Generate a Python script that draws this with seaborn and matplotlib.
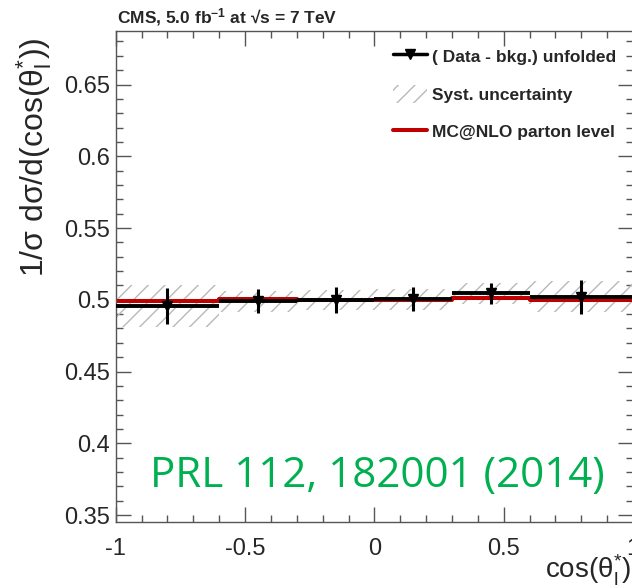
import numpy as np
import matplotlib
matplotlib.use("Agg")
import matplotlib.pyplot as plt
import seaborn as sns
from matplotlib.lines import Line2D
from matplotlib.patches import Patch
from matplotlib.ticker import MultipleLocator

# ---- data ----
bin_edges = [-1.0, -0.6, -0.3, 0.0, 0.3, 0.6, 1.0]
data_values = [0.4956, 0.4991, 0.5000, 0.5005, 0.5045, 0.5021]
stat_errors = [0.0124, 0.0084, 0.0090, 0.0084, 0.0075, 0.0119]
syst_errors = [0.0145, 0.0073, 0.0070, 0.0073, 0.0075, 0.0108]
mc_values = [0.4993, 0.5003, 0.4995, 0.4998, 0.5010, 0.4998]
x_ticks = [-1, -0.5, 0, 0.5, 1]
x_tick_labels = ["-1", "-0.5", "0", "0.5", "1"]
y_ticks = [0.35, 0.4, 0.45, 0.5, 0.55, 0.6, 0.65]
y_tick_labels = ["0.35", "0.4", "0.45", "0.5", "0.55", "0.6", "0.65"]

sns.set_style("ticks")
plt.rcParams["font.family"] = ["Liberation Sans", "DejaVu Sans"]
plt.rcParams["mathtext.default"] = "regular"
plt.rcParams["hatch.linewidth"] = 1.0

edges = np.array(bin_edges)
centers = 0.5 * (edges[:-1] + edges[1:])
widths = np.diff(edges)
dv = np.array(data_values)

fig = plt.figure(figsize=(6.32, 5.88), dpi=100)
ax = fig.add_axes([0.1831, 0.1114, 0.8185, 0.8364])

# systematic band
ax.bar(edges[:-1], 2 * np.array(syst_errors), width=widths, bottom=dv - np.array(syst_errors),
       align="edge", facecolor="none", edgecolor="#b8b8b8", hatch="//", linewidth=0, zorder=1)

# MC line
sns.lineplot(x=edges, y=np.append(mc_values, mc_values[-1]), drawstyle="steps-post",
             color="#c00000", lw=2.9, ax=ax, zorder=2)

# data
ax.hlines(dv, edges[:-1], edges[1:], color="black", lw=2.8, zorder=3)
ax.errorbar(centers, dv, yerr=stat_errors, fmt="v", color="black", ms=7,
            elinewidth=2.2, capsize=0, zorder=4)

ax.set_xlim(-1, 1)
ax.set_ylim(0.3448, 0.6875)
ax.set_xticks(x_ticks)
ax.set_xticklabels(x_tick_labels)
ax.set_yticks(y_ticks)
ax.set_yticklabels(y_tick_labels)
ax.xaxis.set_minor_locator(MultipleLocator(0.1))
ax.yaxis.set_minor_locator(MultipleLocator(0.01))
ax.tick_params(which="both", direction="in", top=True, right=True, color="#555555", width=1)
ax.tick_params(which="major", length=10.5)
ax.tick_params(which="minor", length=5)
ax.tick_params(axis="x", which="major", labelsize=17, pad=11)
ax.tick_params(axis="y", which="major", labelsize=17, pad=4)
for s in ax.spines.values():
    s.set_color("#555555")
    s.set_linewidth(1)
ax.set_xlabel("")
ax.set_ylabel("")

# labels
fig.text(34 / 632, 1 - 277 / 588, "1/σ dσ/d(cos(θ$^{*}_{l}$))", rotation=90,
         ha="center", va="bottom", fontsize=23)
fig.text(631 / 632, 1 - 578 / 588, "cos(θ$^{*}_{l}$)", ha="right", va="baseline", fontsize=20)
fig.text(117 / 632, 1 - 23 / 588, "CMS, 5.0 fb$^{-1}$ at √s = 7 TeV", ha="left",
         va="baseline", fontsize=12.5, fontweight="bold")
fig.text(377 / 632, 1 - 487 / 588, "PRL 112, 182001 (2014)", ha="center", va="baseline",
         fontsize=30.3, color="#00b050", family=["Open Sans", "DejaVu Sans"])

# legend
handles = [
    Line2D([], [], color="black", lw=2.5, marker="v", ms=7),
    Patch(facecolor="none", edgecolor="#b8b8b8", hatch="//", linewidth=0),
    Line2D([], [], color="#c00000", lw=2.9),
]
labels = ["( Data - bkg.) unfolded", "Syst. uncertainty", "MC@NLO parton level"]
fig.legend(handles, labels, loc="upper left", bbox_to_anchor=(393 / 632, 1 - 47 / 588),
           frameon=False, borderpad=0, borderaxespad=0, handlelength=1.95, handleheight=1.2,
           handletextpad=0.3, labelspacing=1.15, prop={"weight": "bold", "size": 12.5})

fig.savefig("out.png", dpi=100)
